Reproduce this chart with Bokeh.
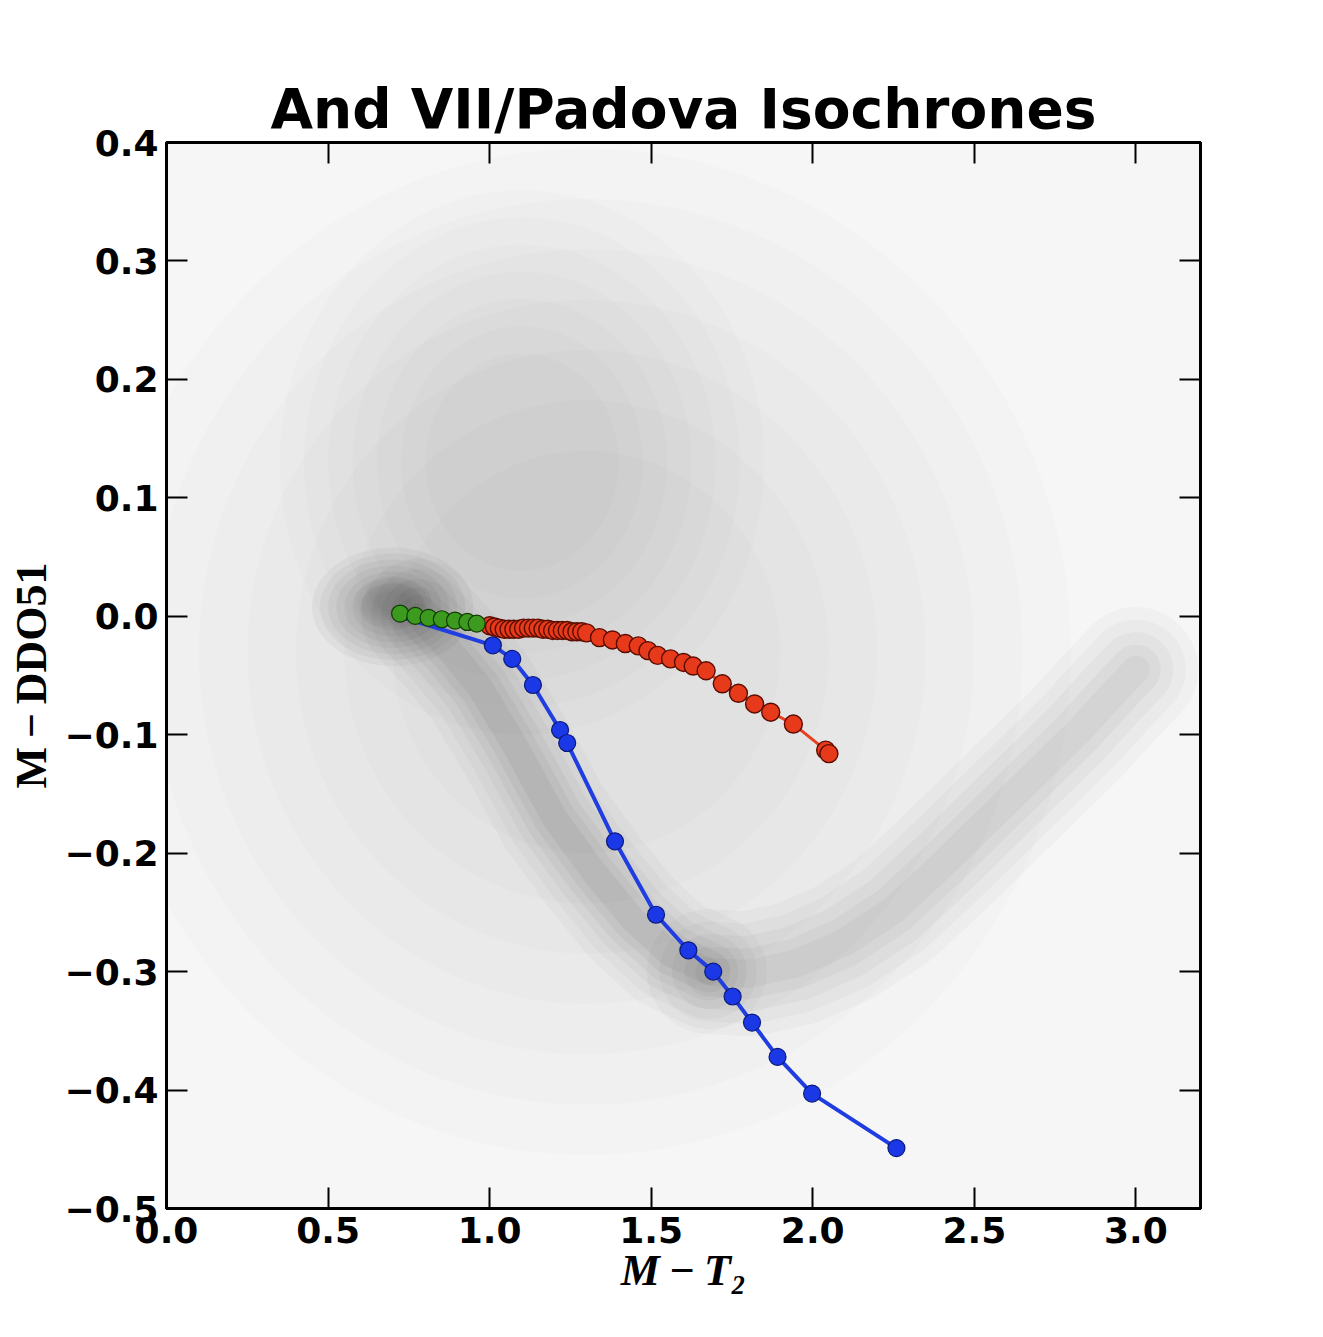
from bokeh.plotting import figure
from bokeh.models import LinearAxis, FixedTicker
from bokeh.embed import file_html
from bokeh.resources import INLINE

# ---------------- data ----------------
title_text = "And VII/Padova Isochrones"
x_label = "M\u2009−\u2009T₂"
y_label = "M\u2009−\u2009DDO51"

x_ticks = [0.0, 0.5, 1.0, 1.5, 2.0, 2.5, 3.0]
x_tick_labels = ["0.0", "0.5", "1.0", "1.5", "2.0", "2.5", "3.0"]
y_ticks = [-0.5, -0.4, -0.3, -0.2, -0.1, 0.0, 0.1, 0.2, 0.3, 0.4]
y_tick_labels = ["−0.5", "−0.4", "−0.3", "−0.2", "−0.1", "0.0", "0.1", "0.2", "0.3", "0.4"]

# isochrones
blue_x = [0.72, 1.01, 1.07, 1.134, 1.218, 1.24, 1.388, 1.515, 1.615, 1.692,
          1.752, 1.812, 1.891, 1.998, 2.259]
blue_y = [0.0, -0.0245, -0.036, -0.058, -0.096, -0.107, -0.190, -0.252, -0.282, -0.300,
          -0.321, -0.343, -0.372, -0.403, -0.449]

red_x = [1.00, 1.015, 1.03, 1.045, 1.06, 1.075, 1.09, 1.105, 1.12, 1.135, 1.15, 1.165,
         1.18, 1.195, 1.21, 1.225, 1.24, 1.255, 1.27, 1.285, 1.30, 1.34, 1.38,
         1.42, 1.46, 1.49, 1.52, 1.56, 1.60, 1.63, 1.67, 1.72, 1.77, 1.82, 1.87, 1.94,
         2.04, 2.05]
red_y = [-0.008, -0.009, -0.010, -0.011, -0.011, -0.011, -0.011, -0.010, -0.010, -0.010,
         -0.010, -0.011, -0.011, -0.012, -0.012, -0.012, -0.012, -0.013, -0.013, -0.013,
         -0.014, -0.018, -0.020, -0.023, -0.025, -0.029, -0.033, -0.036, -0.039, -0.042,
         -0.046, -0.057, -0.065, -0.074, -0.081, -0.091, -0.113, -0.116]

green_x = [0.723, 0.770, 0.811, 0.852, 0.893, 0.931, 0.960]
green_y = [0.0023, 0.0003, -0.0014, -0.0025, -0.0036, -0.0048, -0.0062]

# star field (density structures)
cloud_x = [1.30, 1.10, 0.70, 0.70]
cloud_y = [-0.03, 0.13, 0.008, 0.012]
cloud_w = [3.0, 1.5, 0.50, 0.24]
cloud_h = [0.85, 0.46, 0.10, 0.045]
cloud_a = [0.08, 0.08, 0.26, 0.14]

rgb_ridge_x = [0.78, 0.88, 0.97, 1.08, 1.20, 1.32, 1.44, 1.56, 1.68]
rgb_ridge_y = [0.000, -0.030, -0.060, -0.110, -0.170, -0.215, -0.255, -0.285, -0.300]
u_ridge_x = [1.68, 1.80, 1.95, 2.10, 2.25, 2.40, 2.55, 2.70, 2.82, 2.92, 3.00]
u_ridge_y = [-0.300, -0.302, -0.293, -0.275, -0.248, -0.210, -0.170, -0.130, -0.098, -0.068, -0.045]

# ---------------- figure ----------------
p = figure(width=1300, height=1323, x_range=(0, 3.2), y_range=(-0.5, 0.4),
           output_backend="svg", toolbar_location=None,
           min_border_left=166, min_border_top=142, min_border_right=100,
           min_border_bottom=115)
p.background_fill_color = "#f6f6f6"
p.border_fill_color = "white"
p.outline_line_color = "black"
p.outline_line_width = 3
p.grid.visible = False

p.title.text = title_text
p.title.text_font = "DejaVu Sans"
p.title.text_font_size = "55px"
p.title.text_font_style = "bold"
p.title.text_color = "black"
p.title.align = "center"
p.title.standoff = 4

tick_font = "DejaVu Sans"

def style_axis(ax, ticks, labels, show_labels):
    ax.ticker = FixedTicker(ticks=ticks)
    ax.axis_line_width = 3
    ax.axis_line_color = "black"
    ax.major_tick_in = 21
    ax.major_tick_out = 0
    ax.major_tick_line_width = 2
    ax.major_tick_line_color = "black"
    ax.minor_tick_line_color = None
    ax.major_label_text_font = tick_font
    ax.major_label_text_font_style = "bold"
    ax.major_label_text_color = "black"
    ax.major_label_text_font_size = "36px"
    if show_labels:
        ax.major_label_overrides = {t: l for t, l in zip(ticks, labels)}
        ax.major_label_standoff = 8
    else:
        ax.major_label_overrides = {t: "" for t in ticks}
        ax.major_label_standoff = 0

xa = p.xaxis[0]
style_axis(xa, x_ticks, x_tick_labels, True)
xa.axis_label = x_label
xa.axis_label_text_font = "Liberation Serif"
xa.axis_label_text_font_style = "bold italic"
xa.axis_label_text_font_size = "44px"
xa.axis_label_text_color = "black"
xa.axis_label_standoff = 0

ya = p.yaxis[0]
style_axis(ya, y_ticks, y_tick_labels, True)
ya.axis_label = y_label
ya.axis_label_text_font = "Liberation Serif"
ya.axis_label_text_font_style = "bold"
ya.axis_label_text_font_size = "44px"
ya.axis_label_text_color = "black"
ya.axis_label_standoff = 6

top = LinearAxis()
style_axis(top, x_ticks, x_tick_labels, False)
p.add_layout(top, "above")
right = LinearAxis()
style_axis(right, y_ticks, y_tick_labels, False)
p.add_layout(right, "right")

# star field: soft-edged density features, each drawn as nested translucent layers
layer_scales = [1.0, 0.9, 0.8, 0.7, 0.6, 0.5, 0.4]
for cx, cy, cw, ch, ca in zip(cloud_x, cloud_y, cloud_w, cloud_h, cloud_a):
    p.ellipse(x=[cx] * len(layer_scales), y=[cy] * len(layer_scales),
              width=[cw * s for s in layer_scales], height=[ch * s for s in layer_scales],
              fill_color="black", fill_alpha=ca / len(layer_scales), line_color=None)
for w, a in [(115, 0.022), (95, 0.025), (75, 0.03), (58, 0.035), (42, 0.04), (26, 0.045)]:
    p.line(rgb_ridge_x, rgb_ridge_y, line_width=w, line_alpha=a, line_color="black",
           line_cap="round", line_join="round")
for w, a in [(125, 0.022), (100, 0.025), (75, 0.028), (50, 0.03), (28, 0.03)]:
    p.line(u_ridge_x, u_ridge_y, line_width=w, line_alpha=a, line_color="black",
           line_cap="round", line_join="round")

# isochrones
p.line(blue_x, blue_y, line_color="#1f3de0", line_width=4)
p.scatter(blue_x[1:], blue_y[1:], size=17, fill_color="#1a38e6", line_color="#0b1a7a",
          line_width=1.2)
p.line(red_x, red_y, line_color="#e8401f", line_width=3)
p.scatter(red_x, red_y, size=18, fill_color="#e63a1a", line_color="#5a0c00",
          line_width=1.4)
p.scatter(green_x, green_y, size=17, fill_color="#3c9a1e", line_color="#0f3a00",
          line_width=1.2)

open("out.html", "w").write(file_html(p, INLINE))
